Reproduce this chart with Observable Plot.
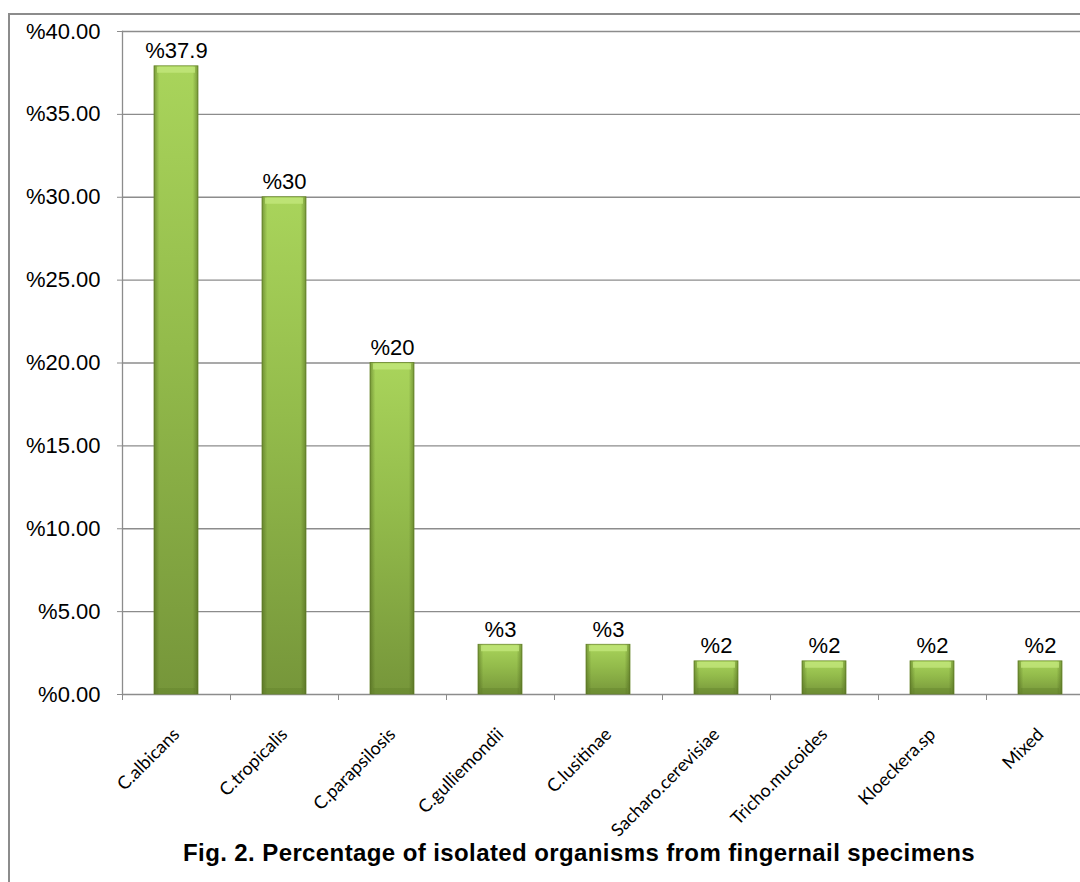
<!DOCTYPE html>
<html>
<head>
<meta charset="utf-8">
<script src="https://cdn.jsdelivr.net/npm/d3@7"></script>
<script src="https://cdn.jsdelivr.net/npm/@observablehq/plot@0.6"></script>
<style>
  html, body { margin: 0; padding: 0; overflow: hidden; background: #fff; }
  #wrap { position: relative; width: 1080px; height: 882px; overflow: hidden; }
  #border { position: absolute; left: 8px; top: 13px; width: 1200px; height: 1000px; border: 2px solid #8c8c8c; box-sizing: border-box; }
  #chart { position: absolute; left: 0; top: 0; width: 1100px; }
  #chart svg { max-width: none !important; width: 1100px; height: 882px; }
  #title { position: absolute; left: 0; top: 841px; width: 1158px; text-align: center; font: bold 24px/24px "Liberation Sans", Arial, sans-serif; letter-spacing: 0.4px; color: #000; white-space: nowrap; }
</style>
</head>
<body>
<div id="wrap">
  <div id="border"></div>
  <div id="chart"></div>
  <div id="title">Fig. 2. Percentage of isolated organisms from fingernail specimens</div>
</div>
<script>
const categories = ["C.albicans", "C.tropicalis", "C.parapsilosis", "C.gulliemondii", "C.lusitinae", "Sacharo.cerevisiae", "Tricho.mucoides", "Kloeckera.sp", "Mixed"];
const values = [37.9, 30, 20, 3, 3, 2, 2, 2, 2];
const valueLabels = ["%37.9", "%30", "%20", "%3", "%3", "%2", "%2", "%2", "%2"];
const yTicks = [0, 5, 10, 15, 20, 25, 30, 35, 40];
const yTickLabels = ["%0.00", "%5.00", "%10.00", "%15.00", "%20.00", "%25.00", "%30.00", "%35.00", "%40.00"];

const data = categories.map((c, i) => ({name: c, value: values[i], label: valueLabels[i]}));
const gray = "#8c8c8c";
const arial = "'Liberation Sans', Arial, sans-serif";

const plot = Plot.plot({
  width: 1100,
  height: 882,
  marginLeft: 122,
  marginRight: 6,
  marginTop: 31,
  marginBottom: 188,
  style: {fontFamily: arial, background: "transparent", overflow: "visible"},
  x: {type: "band", domain: categories, paddingInner: 0.59, paddingOuter: 0.295},
  y: {domain: [0, 40]},
  marks: [
    Plot.ruleY(yTicks, {stroke: gray, strokeWidth: 1.3}),
    Plot.frame({anchor: "left", stroke: gray, strokeWidth: 1.3}),
    Plot.axisY(yTicks, {
      tickSize: 5, tickPadding: 17, stroke: gray, fill: "#000", fontSize: 22,
      tickFormat: d => yTickLabels[yTicks.indexOf(d)], label: null
    }),
    Plot.axisX({tickSize: 6, tickFormat: () => "", dx: -54, stroke: gray, label: null}),
    Plot.rectY(data, {x: "name", y: "value", fill: "url(#barV)", stroke: "#6f8c32", strokeWidth: 0.8}),
    Plot.rectY(data, {x: "name", y: "value", fill: "url(#barH)"}),
    // bevel highlight along the top edge of each bar and shade along the bottom
    Plot.tickY(data, {x: "name", y: "value", dy: 3.5, stroke: "#c4e87e", strokeWidth: 6, strokeOpacity: 0.75, insetLeft: 3, insetRight: 3}),
    Plot.tickY(data, {x: "name", y: 0, dy: -3.5, stroke: "#5f7d28", strokeWidth: 6, strokeOpacity: 0.35, insetLeft: 3, insetRight: 3}),
    Plot.text(data, {x: "name", y: "value", text: "label", lineAnchor: "bottom", dy: -8, fontSize: 22, fontFamily: arial, fill: "#000"}),
    Plot.text(categories, {
      x: d => d, text: d => d, frameAnchor: "bottom", rotate: -45, textAnchor: "end",
      lineAnchor: "top", dx: -5, dy: 32, fontSize: 18, fontFamily: "Lato, 'Open Sans', sans-serif", fill: "#000"
    })
  ]
});

const svg = d3.select(plot);
const defs = svg.insert("defs", ":first-child");
const gv = defs.append("linearGradient").attr("id", "barV").attr("x1", 0).attr("y1", 0).attr("x2", 0).attr("y2", 1);
[["0%", "#a9d45b"], ["45%", "#93bb4b"], ["100%", "#76963a"]].forEach(([o, c]) =>
  gv.append("stop").attr("offset", o).attr("stop-color", c));
const gh = defs.append("linearGradient").attr("id", "barH").attr("x1", 0).attr("y1", 0).attr("x2", 1).attr("y2", 0);
[["0%", 0.45], ["12%", 0], ["88%", 0], ["100%", 0.45]].forEach(([o, a]) =>
  gh.append("stop").attr("offset", o).attr("stop-color", "#3c5210").attr("stop-opacity", a));

document.getElementById("chart").appendChild(plot);
</script>
</body>
</html>
